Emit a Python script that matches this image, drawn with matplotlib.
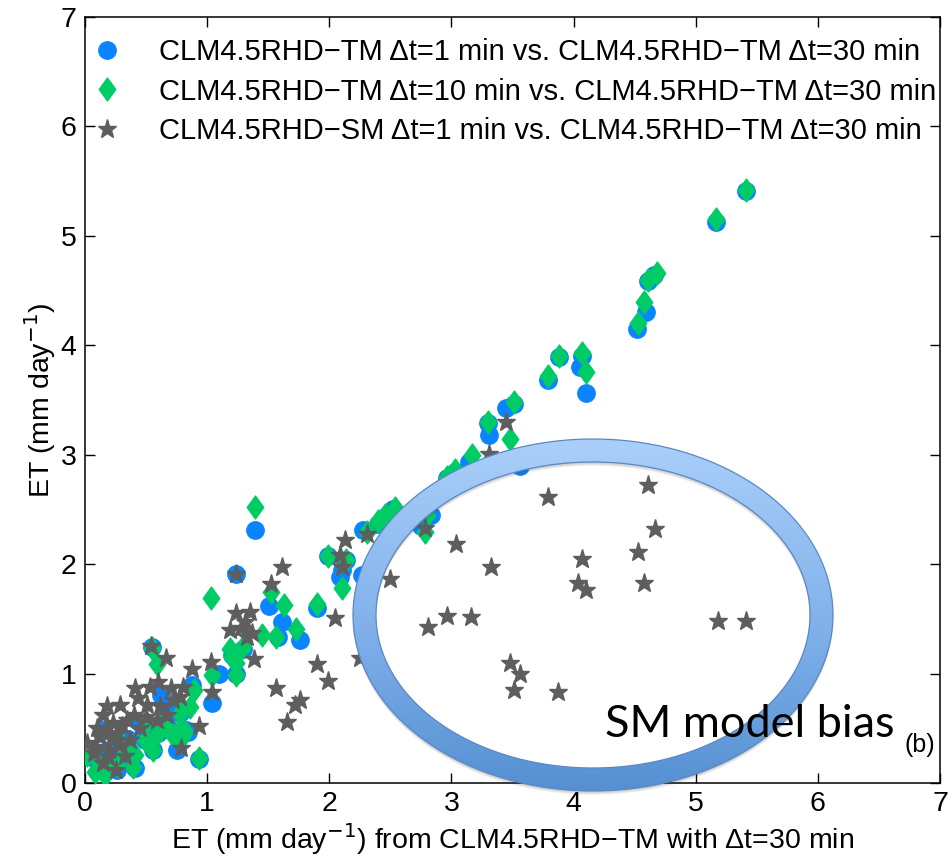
import numpy as np
import matplotlib
matplotlib.use("Agg")
import matplotlib.pyplot as plt
from matplotlib.path import Path
from matplotlib.patches import PathPatch
from matplotlib.colors import LinearSegmentedColormap

# ---------------- data ----------------
tm1_x = [5.41, 5.17, 4.66, 4.61, 4.59, 4.52, 4.07, 4.05, 4.10, 3.88, 3.79, 3.51, 3.45,
         3.30, 3.31, 3.56, 3.14, 3.03, 2.96, 2.83, 2.52, 2.46, 2.40, 2.28, 2.27, 2.14,
         1.99, 2.09, 1.90, 1.39, 1.24, 1.51, 1.61, 1.76, 1.58, 1.20, 1.24, 1.29, 1.04,
         0.88, 0.83, 0.75, 0.93, 0.56, 0.55, 0.84, 0.67, 0.60, 0.41, 0.26, 0.02, 0.15,
         0.49, 0.78, 0.70, 0.35, 0.20, 0.10, 0.30, 1.10, 0.17, 0.45, 2.10, 2.75, 0.62]
tm1_y = [5.41, 5.13, 4.64, 4.59, 4.30, 4.15, 3.90, 3.80, 3.56, 3.89, 3.68, 3.46, 3.43,
         3.29, 3.18, 2.90, 2.93, 2.84, 2.79, 2.45, 2.50, 2.43, 2.37, 2.31, 1.90, 2.04,
         2.07, 1.88, 1.60, 2.31, 1.91, 1.62, 1.47, 1.31, 1.33, 1.17, 1.00, 1.22, 0.73,
         0.90, 0.48, 0.30, 0.22, 0.30, 1.24, 0.47, 0.52, 0.46, 0.14, 0.12, 0.25, 0.48,
         0.39, 0.64, 0.70, 0.40, 0.30, 0.20, 0.20, 1.00, 0.14, 0.55, 1.95, 2.35, 0.80]

tm10_x = [5.41, 5.17, 4.68, 4.61, 4.58, 4.53, 4.07, 4.10, 3.88, 3.79, 3.51, 3.30, 3.48,
          3.17, 3.03, 2.96, 2.78, 2.54, 2.46, 2.40, 2.31, 2.14, 2.10, 1.99, 1.90, 1.39,
          1.03, 1.52, 1.63, 1.73, 1.56, 1.19, 1.29, 1.24, 1.24, 1.04, 0.89, 0.82, 0.93,
          0.56, 0.55, 0.59, 0.63, 0.67, 0.75, 0.78, 0.60, 0.49, 0.41, 0.39, 0.26, 0.16,
          0.08, 0.02, 0.86, 0.78, 0.30, 0.20, 0.72, 1.20, 2.80, 1.45, 0.12, 0.35, 0.50]
tm10_y = [5.42, 5.15, 4.66, 4.60, 4.40, 4.20, 3.93, 3.76, 3.90, 3.72, 3.48, 3.30, 3.14,
          3.00, 2.86, 2.80, 2.29, 2.51, 2.45, 2.39, 2.29, 2.04, 1.78, 2.07, 1.64, 2.52,
          1.69, 1.75, 1.63, 1.41, 1.33, 1.22, 1.24, 1.10, 0.99, 0.99, 0.85, 0.47, 0.23,
          0.30, 1.23, 1.09, 0.58, 0.51, 0.46, 0.39, 0.46, 0.39, 0.26, 0.15, 0.16, 0.07,
          0.10, 0.26, 0.69, 0.64, 0.35, 0.22, 0.44, 1.15, 2.45, 1.35, 0.18, 0.28, 0.55]

sm1_x = [3.45, 3.31, 2.78, 2.31, 2.13, 2.09, 2.10, 1.61, 1.52, 1.24, 2.05, 2.50, 2.25,
         1.90, 1.99, 1.56, 1.76, 1.72, 1.65, 1.38, 1.24, 1.35, 1.31, 1.19, 1.37, 1.33,
         1.28, 1.03, 1.04, 0.88, 0.93, 0.79, 0.54, 0.66,
         3.79, 4.61, 4.67, 4.53, 4.58, 4.07, 4.04, 4.10, 3.32, 3.04, 2.96, 3.16, 2.81,
         5.18, 5.41, 3.48, 3.56, 3.51, 3.87,
         0.41, 0.60, 0.53, 0.70, 0.80, 0.18, 0.15, 0.10, 0.02, 0.29, 0.34, 0.43, 0.51,
         0.61, 0.67, 0.59, 0.72, 0.78, 0.45, 0.12, 0.20, 0.15, 0.26, 0.23, 0.19, 0.37,
         0.07, 0.28, 0.33, 0.22, 0.40, 0.50, 0.17, 0.08, 0.25, 0.30]
sm1_y = [3.30, 3.01, 2.33, 2.28, 2.22, 2.08, 1.97, 1.97, 1.82, 1.91, 1.51, 1.86, 1.14,
         1.09, 0.93, 0.87, 0.76, 0.71, 0.56, 1.13, 1.55, 1.56, 1.47, 1.40, 1.37, 1.33,
         1.42, 1.11, 0.83, 1.04, 0.52, 0.32, 1.25, 1.14,
         2.61, 2.72, 2.32, 2.11, 1.83, 2.05, 1.83, 1.76, 1.97, 2.18, 1.53, 1.52, 1.43,
         1.48, 1.48, 1.10, 1.00, 0.85, 0.83,
         0.87, 0.92, 0.88, 0.87, 0.88, 0.70, 0.62, 0.50, 0.37, 0.71, 0.58, 0.78, 0.71,
         0.70, 0.62, 0.58, 0.76, 0.79, 0.50, 0.42, 0.30, 0.18, 0.46, 0.55, 0.24, 0.39,
         0.27, 0.35, 0.25, 0.40, 0.62, 0.60, 0.50, 0.33, 0.12, 0.52]

labels = ["CLM4.5RHD\u2212TM \u0394t=1 min vs. CLM4.5RHD\u2212TM \u0394t=30 min",
          "CLM4.5RHD\u2212TM \u0394t=10 min vs. CLM4.5RHD\u2212TM \u0394t=30 min",
          "CLM4.5RHD\u2212SM \u0394t=1 min vs. CLM4.5RHD\u2212TM \u0394t=30 min"]
ticks = [0, 1, 2, 3, 4, 5, 6, 7]

# ---------------- style ----------------
plt.rcParams['font.family'] = ['Liberation Sans', 'DejaVu Sans']
BLUE = '#0a84ff'
GREEN = '#00cc66'
GREY = '#5e5e5e'

fig = plt.figure(figsize=(9.53, 8.61), dpi=100)
ax = fig.add_axes([85/953, 1-783/861, (940-85)/953, (783-17)/861])

diamond = Path([(0, -1), (0.72, 0), (0, 1), (-0.72, 0), (0, -1)],
               [Path.MOVETO, Path.LINETO, Path.LINETO, Path.LINETO, Path.CLOSEPOLY])

ax.plot(tm1_x, tm1_y, 'o', ms=12.5, color=BLUE, mec=BLUE, label=labels[0], zorder=3)
ax.plot(tm10_x, tm10_y, marker=diamond, ls='none', ms=16.5, color=GREEN, mec=GREEN,
        label=labels[1], zorder=4)
ax.plot(sm1_x, sm1_y, '*', ms=14, color=GREY, mec=GREY, label=labels[2], zorder=5)

ax.set_xlim(0, 7)
ax.set_ylim(0, 7)
ax.set_xticks(ticks)
ax.set_yticks(ticks)
ax.tick_params(direction='in', length=7, width=1, top=True, right=True,
               labelsize=20.5, pad=6)
for s in ax.spines.values():
    s.set_linewidth(1.1)

ax.set_xlabel("ET (mm day$^{-1}$) from CLM4.5RHD\u2212TM with \u0394t=30 min", fontsize=20.5,
              labelpad=3)
ax.set_ylabel("ET (mm day$^{-1}$)", fontsize=20.5, labelpad=2)

leg = ax.legend(loc='upper left', frameon=False, fontsize=21, handletextpad=1.45,
                handlelength=0.7, labelspacing=0.4, borderaxespad=0.0,
                borderpad=0.4, bbox_to_anchor=(0.0, 0.988))

ax.text(6.96, 0.35, "(b)", fontsize=18, ha='right', va='center', zorder=10)

# ---------------- ring annotation (pixel overlay) ----------------
ov = fig.add_axes([0, 0, 1, 1], zorder=5)
ov.set_xlim(0, 953)
ov.set_ylim(861, 0)
ov.axis('off')
ov.patch.set_alpha(0)

cx, cy, a_out, b_out, thick = 593, 615, 240, 176, 23
t = np.linspace(0, 2*np.pi, 400)


def ring_path(dx=0, dy=0):
    ox = cx + dx + a_out*np.cos(t)
    oy = cy + dy + b_out*np.sin(t)
    ix = cx + dx + (a_out-thick)*np.cos(t[::-1])
    iy = cy + dy + (b_out-thick)*np.sin(t[::-1])
    verts = np.concatenate([np.c_[ox, oy], np.c_[ix, iy]])
    codes = np.full(len(verts), Path.LINETO)
    codes[0] = Path.MOVETO
    codes[len(t)] = Path.MOVETO
    return Path(verts, codes)

for k, al in [(4, 0.06), (3, 0.08), (2, 0.1)]:
    sh = PathPatch(ring_path(0, k), facecolor='#404040', edgecolor='none', alpha=al)
    ov.add_patch(sh)

rp = PathPatch(ring_path(), facecolor='none', edgecolor='none')
ov.add_patch(rp)
grad = np.linspace(0, 1, 256).reshape(-1, 1)
cmap = LinearSegmentedColormap.from_list('ring', ['#aacff9', '#84b3ec', '#5590d2'])
im = ov.imshow(grad, cmap=cmap, aspect='auto',
               extent=(cx-a_out, cx+a_out, cy+b_out, cy-b_out), zorder=2)
im.set_clip_path(rp)
ov.add_patch(PathPatch(ring_path(), facecolor='none', edgecolor='#5b88c2', lw=0.9, zorder=3))
ov.set_xlim(0, 953)
ov.set_ylim(861, 0)

ov.text(605, 737, "SM model bias", fontsize=32.5, family=['Lato', 'DejaVu Sans'],
        ha='left', va='baseline', zorder=6)

fig.savefig('out.png', dpi=100)
